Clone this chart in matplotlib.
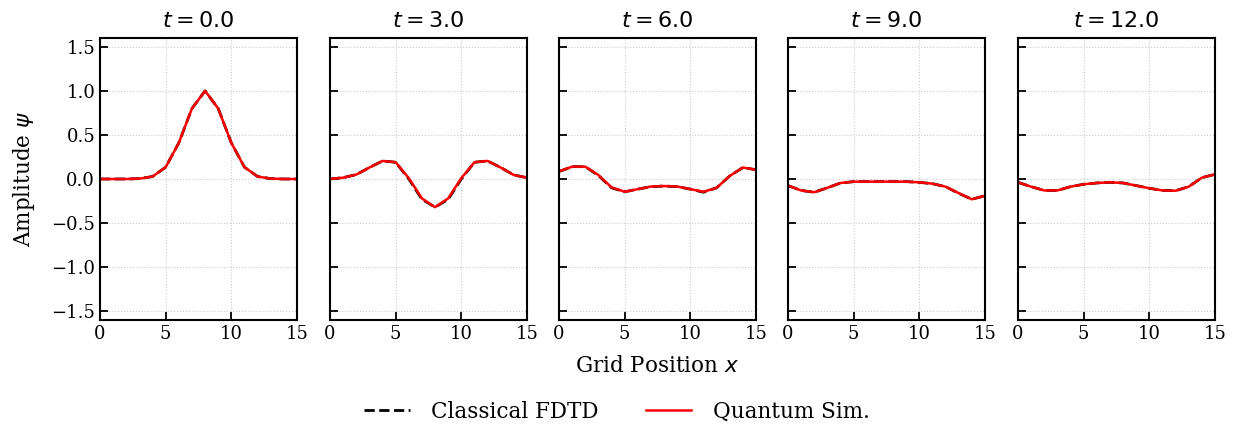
import matplotlib; matplotlib.use("Agg")
import matplotlib.pyplot as plt
from matplotlib.lines import Line2D

x = list(range(16))
times = ["0.0", "3.0", "6.0", "9.0", "12.0"]

# classical FDTD field snapshots
fdtd_t0 = [0.0, 0.0, 0.0, 0.004, 0.028, 0.134, 0.41, 0.80, 1.0, 0.80, 0.41, 0.134, 0.028, 0.004, 0.0, 0.0]
fdtd_t3 = [0.0, 0.015, 0.05, 0.13, 0.205, 0.19, 0.0, -0.23, -0.32, -0.23, 0.0, 0.19, 0.205, 0.13, 0.045, 0.015]
fdtd_t6 = [0.085, 0.14, 0.14, 0.04, -0.10, -0.145, -0.115, -0.087, -0.08, -0.087, -0.115, -0.15, -0.10, 0.035, 0.13, 0.105]
fdtd_t9 = [-0.075, -0.13, -0.15, -0.10, -0.045, -0.03, -0.03, -0.03, -0.03, -0.03, -0.038, -0.053, -0.087, -0.163, -0.23, -0.19]
fdtd_t12 = [-0.038, -0.087, -0.13, -0.13, -0.087, -0.06, -0.045, -0.038, -0.045, -0.075, -0.105, -0.13, -0.133, -0.087, 0.015, 0.053]

# quantum simulation snapshots (nearly identical)
qsim_t0 = [0.0, 0.0, 0.0, 0.004, 0.028, 0.134, 0.41, 0.80, 1.0, 0.80, 0.41, 0.134, 0.028, 0.004, 0.0, 0.0]
qsim_t3 = [0.0, 0.015, 0.05, 0.13, 0.205, 0.19, 0.01, -0.22, -0.32, -0.22, 0.01, 0.19, 0.205, 0.13, 0.045, 0.015]
qsim_t6 = [0.085, 0.14, 0.14, 0.045, -0.095, -0.145, -0.115, -0.085, -0.08, -0.085, -0.115, -0.145, -0.10, 0.035, 0.13, 0.105]
qsim_t9 = [-0.075, -0.13, -0.15, -0.10, -0.045, -0.03, -0.03, -0.03, -0.03, -0.03, -0.038, -0.053, -0.087, -0.16, -0.23, -0.19]
qsim_t12 = [-0.038, -0.087, -0.13, -0.13, -0.087, -0.06, -0.045, -0.038, -0.045, -0.075, -0.105, -0.13, -0.133, -0.087, 0.015, 0.053]

fdtd = [fdtd_t0, fdtd_t3, fdtd_t6, fdtd_t9, fdtd_t12]
qsim = [qsim_t0, qsim_t3, qsim_t6, qsim_t9, qsim_t12]

plt.rcParams["font.family"] = "DejaVu Serif"
plt.rcParams["mathtext.fontset"] = "dejavusans"

fig = plt.figure(figsize=(12.34, 4.29), dpi=100)
W, H = 1234, 429
lefts = [100, 330, 559, 788, 1018]
aw, top, bot = 197, 38, 320
for i, (t, yc, yq) in enumerate(zip(times, fdtd, qsim)):
    ax = fig.add_axes([lefts[i] / W, 1 - bot / H, aw / W, (bot - top) / H])
    ax.plot(x, yc, "--", color="black", lw=2)
    ax.plot(x, yq, "-", color="red", lw=1.8)
    ax.set_xlim(0, 15); ax.set_ylim(-1.6, 1.6)
    ax.set_xticks([0, 5, 10, 15]); ax.set_yticks([-1.5, -1.0, -0.5, 0.0, 0.5, 1.0, 1.5])
    ax.tick_params(direction="in", length=6, width=1.3, labelsize=13)
    ax.grid(ls=":", color="#cccccc", lw=0.8)
    for s in ax.spines.values():
        s.set_linewidth(1.5)
    ax.set_title(f"$t = {t}$", fontsize=16, pad=8)
    if i == 0:
        ax.set_ylabel(r"Amplitude $\psi$", fontsize=15.5, labelpad=10)
    else:
        ax.tick_params(labelleft=False)

fig.text(657 / W, 1 - 366 / H, "Grid Position $x$", ha="center", va="center", fontsize=15.5)
handles = [Line2D([], [], ls="--", color="black", lw=2), Line2D([], [], color="red", lw=1.8)]
fig.legend(handles, ["Classical FDTD", "Quantum Sim."], loc="center", bbox_to_anchor=(617 / W, 1 - 412 / H),
           ncol=2, frameon=False, fontsize=15.5, columnspacing=2.2, handletextpad=1.0, handlelength=2.1)
fig.savefig("out.png", dpi=100)
